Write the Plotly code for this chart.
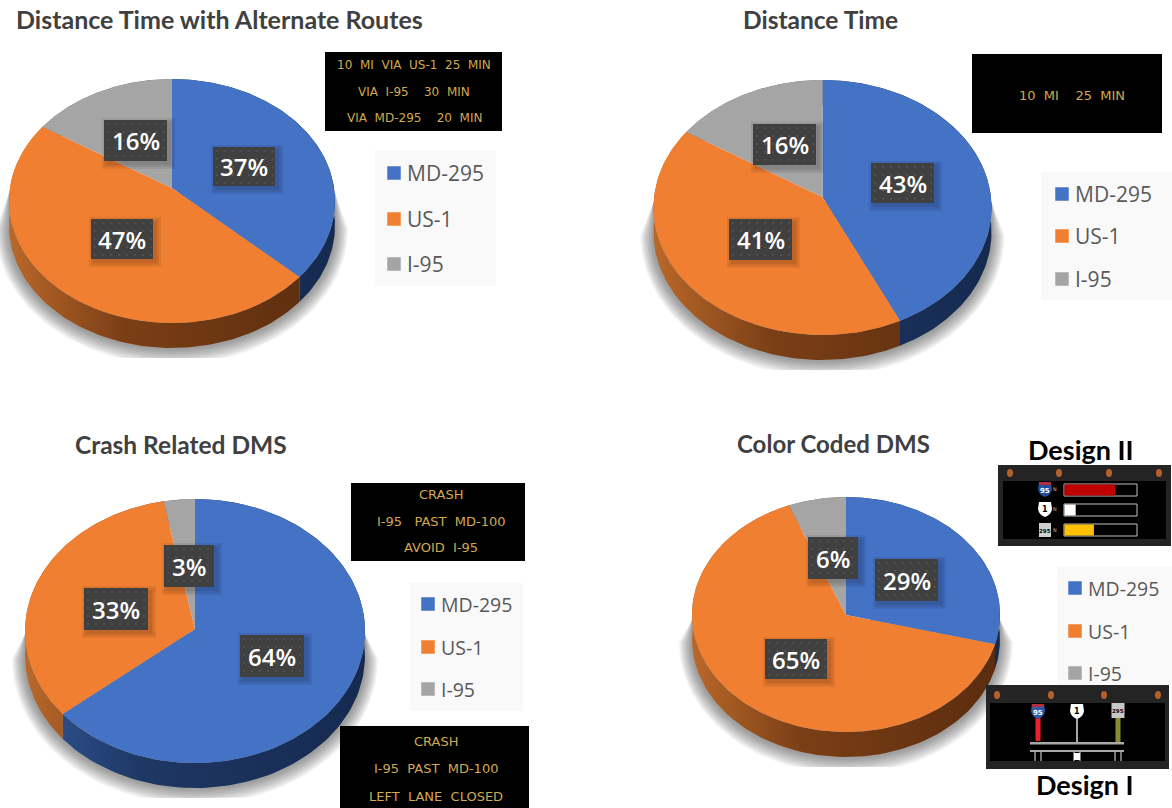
import numpy as np
import plotly.graph_objects as go

# ---------- data ----------
SERIES = ["MD-295", "US-1", "I-95"]
TITLES = ["Distance Time with Alternate Routes", "Distance Time", "Crash Related DMS", "Color Coded DMS"]
VALUES_ALT = [37, 47, 16]
VALUES_DT = [43, 41, 16]
VALUES_CRASH = [64, 33, 3]
VALUES_COLOR = [29, 65, 6]
SIGN_ALT = ["10  MI  VIA  US-1  25  MIN", "VIA  I-95    30  MIN", "VIA  MD-295    20  MIN"]
SIGN_DT = ["10  MI    25  MIN"]
SIGN_CRASH_A = ["CRASH", "I-95   PAST  MD-100", "AVOID  I-95"]
SIGN_CRASH_B = ["CRASH", "I-95  PAST  MD-100", "LEFT  LANE  CLOSED"]
DESIGN2_LEVELS = [0.70, 0.16, 0.41]

# ---------- style and layout ----------
W, H = 1172, 808
TOP = ["#4472C4", "#F07F31", "#A5A5A5"]
SIDE = [
    [[0, "#315596"], [0.35, "#1E3763"], [1, "#162A50"]],
    [[0, "#B9682A"], [0.35, "#7B3F16"], [1, "#5A2C0E"]],
    [[0, "#777777"], [1, "#555555"]],
]
PANELS = [
    dict(values=VALUES_ALT, cx=172, vy=188, rx=163, top=79, bottom=323, depth=25,
         boxes=[(213, 147, 275, 186), (91, 219, 153, 259), (104, 120, 167, 161)],
         title=(219.5, 19, 25), leg=(375, 150, 496, 286), sq=394, ly=[173, 219, 264], fs=21),
    dict(values=VALUES_DT, cx=822.5, vy=197, rx=169, top=80, bottom=335, depth=25,
         boxes=[(871, 163, 934, 203), (729, 219, 792, 260), (753, 124, 816, 165)],
         title=(820, 19, 24.5), leg=(1041, 172, 1172, 300), sq=1062, ly=[194, 236, 279], fs=21),
    dict(values=VALUES_CRASH, cx=195, vy=629, rx=170, top=499, bottom=763, depth=25,
         boxes=[(240, 635, 304, 677), (84, 588, 148, 630), (164, 545, 214, 587)],
         title=(181, 444, 24.5), leg=(410, 583, 523, 711), sq=428, ly=[604, 647, 689], fs=19.5),
    dict(values=VALUES_COLOR, cx=846, vy=615, rx=154, top=497, bottom=732, depth=25,
         boxes=[(875, 559, 938, 601), (765, 639, 827, 679), (808, 537, 858, 579)],
         title=(833, 443, 24), leg=(1057, 567, 1172, 685), sq=1075, ly=[588, 631, 673], fs=19.5),
]
AMBER = "#D2A94F"
SIGNS = [
    (SIGN_ALT, (325, 52, 502, 131), 414, [65, 92, 118], 12),
    (SIGN_DT, (972, 54, 1162, 133), 1072, [95], 13),
    (SIGN_CRASH_A, (351, 483, 525, 561), 441, [494, 521, 547], 13),
    (SIGN_CRASH_B, (340, 726, 529, 808), 436, [741, 768, 796], 13),
]

fig = go.Figure()
annotations, shapes = [], []


def add_poly(x, y, color, **kw):
    fig.add_trace(go.Scatter(x=list(x), y=list(y), mode="lines", fill="toself", fillcolor=color,
                             line=dict(width=0), hoverinfo="skip", showlegend=False, **kw))


def add_rect(x0, y0, x1, y1, color):
    add_poly([x0, x1, x1, x0, x0], [y0, y0, y1, y1, y0], color)


def text(x, y, s, size, color, font="Open Sans", xanchor="center", weight="normal"):
    annotations.append(dict(x=x, y=y, xref="x", yref="y", text=s, showarrow=False, xanchor=xanchor,
                            yanchor="middle", font=dict(family=font, size=size, color=color, weight=weight)))


def rect_shape(x0, y0, x1, y1, fill, line=None, lw=0):
    shapes.append(dict(type="rect", x0=x0, y0=y0, x1=x1, y1=y1, xref="x", yref="y", layer="above",
                       fillcolor=fill, line=dict(color=line or fill, width=lw)))


def shield(x, y, c, band=None):
    path = (f"M {x-6},{y-7} L {x+6},{y-7} L {x+7},{y} Q {x+6},{y+6} {x},{y+8} "
            f"Q {x-6},{y+6} {x-7},{y} Z")
    shapes.append(dict(type="path", path=path, xref="x", yref="y", layer="above",
                       fillcolor=c, line=dict(width=0)))
    if band:
        rect_shape(x - 6, y - 7, x + 6, y - 4, band)


for p in PANELS:
    cx, vy, rx, d = p["cx"], p["vy"], p["rx"], p["depth"]
    above, below = vy - p["top"], p["bottom"] - vy
    k = (below - above) / (below + above)
    A = above * (1 + k)
    R = rx * np.sqrt(1 - k * k)

    def project(theta):
        u, v = np.sin(theta), np.cos(theta)
        s = 1 + k * v
        return cx + R * u / s, vy - A * v / s

    # soft drop shadow under the disc
    ym = (p["top"] + p["bottom"]) / 2 + d + 3
    ry = (p["bottom"] - p["top"]) / 2
    clip_y = p["bottom"] + d + 10
    for e in range(2, 18, 2):
        t = np.linspace(np.pi / 2, -np.pi / 2, 80)
        sx = cx - (rx + e * 0.8) * np.sin(t)
        sy = np.minimum(ym + (ry + e) * np.cos(t) * 0.98, clip_y)
        sx = np.concatenate([[cx - rx], sx, [cx + rx]])
        sy = np.concatenate([[vy + 5], sy, [vy + 5]])
        add_poly(sx, sy, "rgba(60,60,60,0.075)")

    vals = np.array(p["values"], dtype=float)
    edges = np.concatenate([[0], np.cumsum(vals) / vals.sum()]) * 2 * np.pi

    # rim of the disc
    for i in range(len(vals)):
        t = np.linspace(edges[i], edges[i + 1], 120)
        ax, ay = project(t)
        fig.add_trace(go.Scatter(
            x=np.concatenate([ax, ax[::-1], ax[:1]]), y=np.concatenate([ay, ay[::-1] + d, ay[:1]]),
            mode="lines", line=dict(width=0), fill="toself", hoverinfo="skip", showlegend=False,
            fillgradient=dict(type="horizontal", colorscale=SIDE[i], start=cx - rx, stop=cx + rx)))

    # top face
    for i in range(len(vals)):
        t = np.linspace(edges[i], edges[i + 1], 180)
        ax, ay = project(t)
        add_poly(np.concatenate([[cx], ax, [cx]]), np.concatenate([[vy], ay, [vy]]), TOP[i])

    # legend block
    add_rect(*p["leg"], "#F9F9F9")
    fig.add_trace(go.Scatter(x=[p["sq"]] * 3, y=p["ly"], mode="markers",
                             marker=dict(symbol="square", size=13.5, color=TOP, line=dict(width=0)),
                             hoverinfo="skip", showlegend=False))
    for name, y in zip(SERIES, p["ly"]):
        text(p["sq"] + 11, y, name, p["fs"], "#595959", xanchor="left")

    # value labels
    for val, (x0, y0, x1, y1) in zip(p["values"], p["boxes"]):
        for g in (5, 3, 1):
            add_rect(x0 + 3 - g, y0 + 3 - g, x1 + 3 + g, y1 + 3 + g, "rgba(0,0,0,0.07)")
        add_rect(x0, y0, x1, y1, "#404040")
        gx, gy = np.meshgrid(np.arange(x0 + 4, x1, 8.0), np.arange(y0 + 4, y1, 8.0))
        fig.add_trace(go.Scatter(x=gx.ravel(), y=gy.ravel(), mode="markers",
                                 marker=dict(size=2.2, color="rgba(255,255,255,0.10)", line=dict(width=0)),
                                 hoverinfo="skip", showlegend=False))
        text((x0 + x1) / 2, (y0 + y1) / 2, f"{val}%", 24, "#FFFFFF", weight=600)

for title, p in zip(TITLES, PANELS):
    text(p["title"][0], p["title"][1], title, p["title"][2], "#404040", font="Lato", weight="bold")

# ---------- message signs ----------
for lines, box, xc, ys, fs in SIGNS:
    rect_shape(*box, "#000000")
    for s, y in zip(lines, ys):
        text(xc, y, s.replace(" ", "\u00a0"), fs, AMBER, font="DejaVu Sans")

# ---------- Design II panel ----------
text(1081, 449, "Design II", 27, "#000000", font="Lato", weight="bold")
rect_shape(998, 465, 1171, 546, "#242424")
rect_shape(1003, 481, 1166, 539, "#000000")
for x in (1010, 1059, 1109, 1159):
    shapes.append(dict(type="circle", x0=x - 3, x1=x + 3, y0=469, y1=477, xref="x", yref="y", layer="above",
                       fillcolor="#B5612E", line=dict(width=0)))
for lvl, y, c in zip(DESIGN2_LEVELS, (484, 504, 524), ("#C00000", "#FFFFFF", "#FFC000")):
    rect_shape(1064, y, 1137, y + 12, "#000000", "#BFBFBF", 1)
    rect_shape(1064.5, y + 0.5, 1064 + 73 * lvl, y + 11.5, c)
shield(1045, 489, "#1F4E9E", "#B03040")
text(1045, 491, "95", 7, "#FFFFFF", font="DejaVu Sans", weight="bold")
shield(1045, 509, "#FFFFFF")
text(1045, 509, "1", 8, "#000000", font="DejaVu Sans", weight="bold")
rect_shape(1039, 523, 1051, 537, "#D0D0D0")
text(1045, 531, "295", 5.5, "#000000", font="DejaVu Sans", weight="bold")
for y in (489, 509, 530):
    text(1054.5, y, "N", 5, "#BBBBBB", font="DejaVu Sans")

# ---------- Design I panel ----------
rect_shape(986, 685, 1169, 769, "#242424")
rect_shape(990, 703, 1165, 761, "#000000")
for x in (997, 1051, 1104, 1158):
    shapes.append(dict(type="circle", x0=x - 3, x1=x + 3, y0=691, y1=699, xref="x", yref="y", layer="above",
                       fillcolor="#B5612E", line=dict(width=0)))
rect_shape(1030, 742, 1124, 744.5, "#A8A8A8")
rect_shape(1030, 750, 1124, 752, "#A8A8A8")
for x, y0, y1, c, w in ((1038, 716, 741, "#E8202A", 5), (1077, 716, 742, "#A8A8A8", 2), (1118, 716, 742, "#8A8A30", 5)):
    rect_shape(x - w / 2, y0, x + w / 2, y1, c)
for x in (1035, 1041, 1074, 1080, 1115, 1121):
    rect_shape(x - 0.7, 752, x + 0.7, 761, "#A8A8A8")
rect_shape(1074, 753, 1080, 760, "#FFFFFF")
shield(1038, 711, "#2F5AA8", "#B03040")
text(1038, 713, "95", 7, "#FFFFFF", font="DejaVu Sans", weight="bold")
shield(1077, 711, "#FFFFFF")
text(1077, 711, "1", 8, "#000000", font="DejaVu Sans", weight="bold")
rect_shape(1111.5, 703, 1124.5, 718, "#C8C8C8")
text(1118, 710.5, "295", 5.5, "#000000", font="DejaVu Sans", weight="bold")
text(1085, 784, "Design I", 27, "#000000", font="Lato", weight="bold")

fig.update_layout(
    width=W, height=H, margin=dict(l=0, r=0, t=0, b=0), showlegend=False,
    paper_bgcolor="#FFFFFF", plot_bgcolor="#FFFFFF",
    xaxis=dict(range=[0, W], visible=False, fixedrange=True),
    yaxis=dict(range=[H, 0], visible=False, fixedrange=True),
    annotations=annotations, shapes=shapes,
)
fig.write_html("out.html", config={"displayModeBar": False},
               post_script="document.body.style.margin='0';document.documentElement.style.overflow='hidden';")
